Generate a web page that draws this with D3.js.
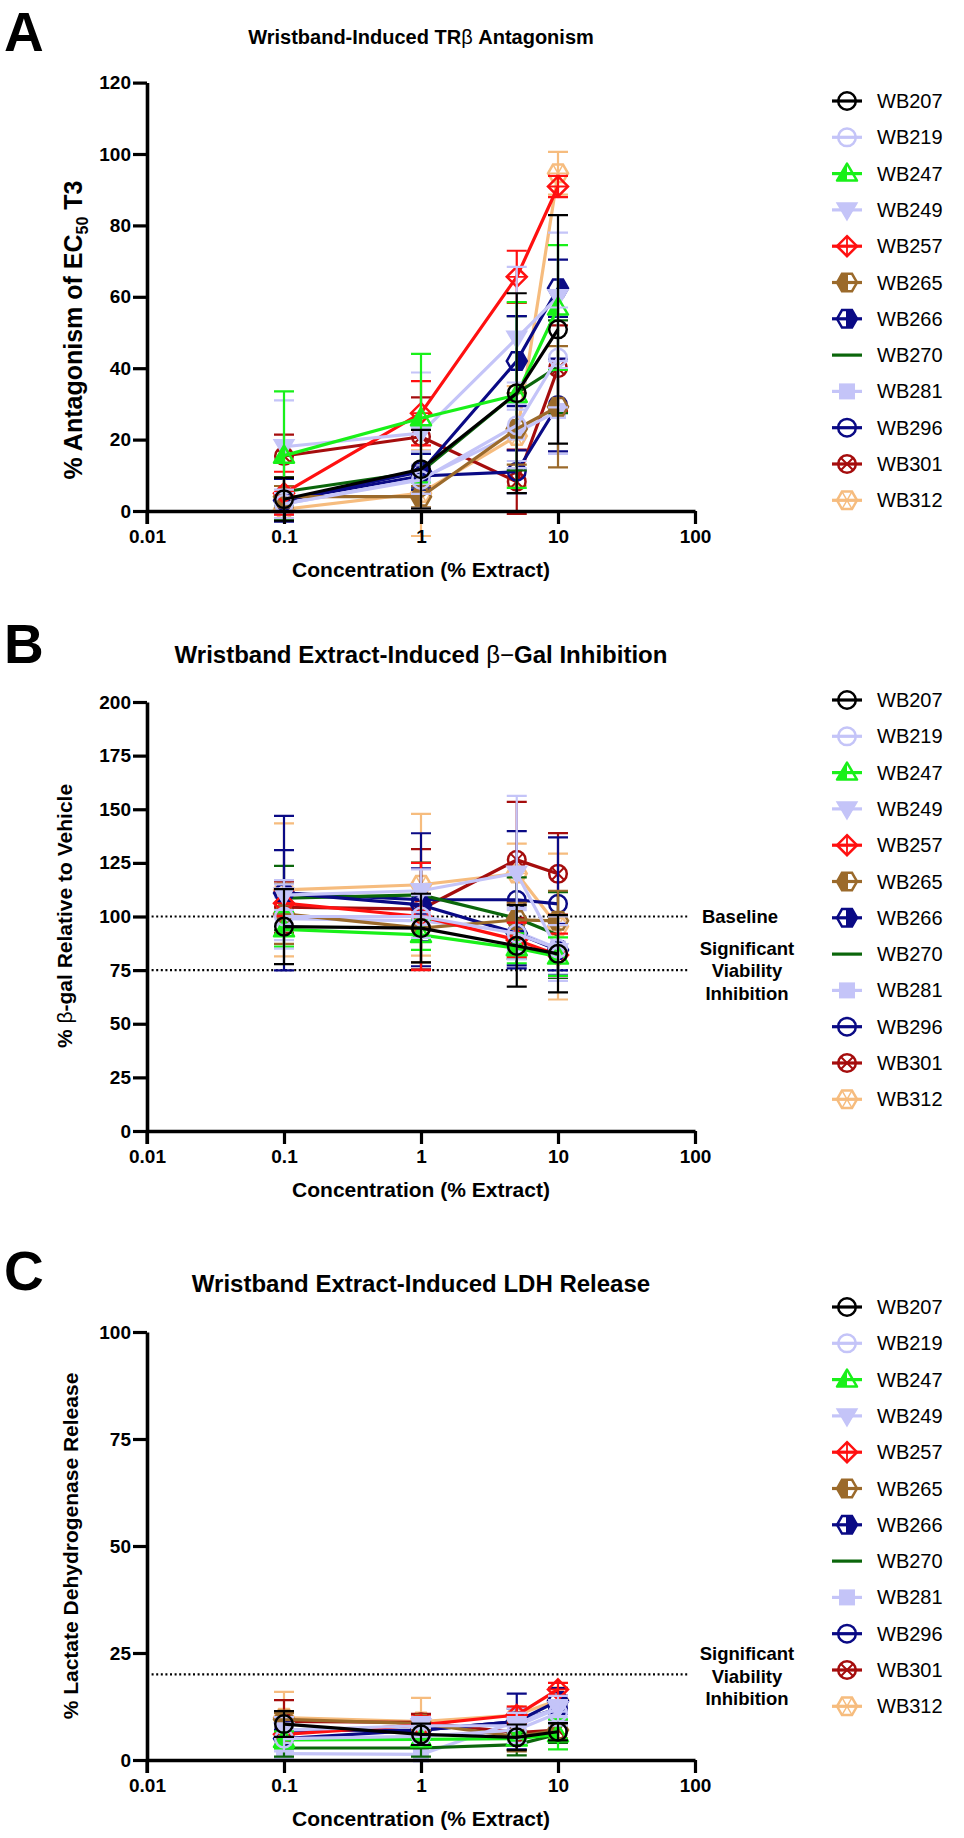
<!DOCTYPE html>
<html><head><meta charset="utf-8">
<script src="https://cdn.jsdelivr.net/npm/d3@7"></script>
<style>
body{margin:0;background:#fff}
svg{display:block}
text{font-family:"Liberation Sans",Arial,Helvetica,sans-serif;fill:#000}
</style>
</head><body>
<svg id="chart" width="964" height="1838"></svg>
<script>
// ---------------- DATA ----------------
const concentrations = [0.1, 1, 5, 10];
const seriesNames = ["WB207","WB219","WB247","WB249","WB257","WB265","WB266","WB270","WB281","WB296","WB301","WB312"];
const xTickValues = [0.01, 0.1, 1, 10, 100];
const xTickLabels = ["0.01", "0.1", "1", "10", "100"];

// Panel A: % antagonism of EC50 T3
const trbYTicks = [0, 20, 40, 60, 80, 100, 120];
const trbMeans = [
  [3.3, 11.7, 33, 50.9],
  [2, 8.7, 24, 43],
  [15.5, 26, 32.5, 57],
  [18, 21.8, 48.4, 60],
  [5, 27.4, 65.6, 90.9],
  [4, 4, 23, 29.2],
  [3, 11, 42, 62.4],
  [5.4, 11, 33, 40.4],
  [2, 9, 22, 28],
  [3, 9.8, 11, 29.7],
  [15.4, 20.8, 8.2, 40],
  [0.5, 5, 21, 94.6]
];
const trbErrors = [
  [6, 11, 28, 32],
  [4, 8, 12, 14],
  [18, 18, 26, 17.5],
  [13, 17, 20, 18],
  [6, 9, 7.3, 3],
  [3, 3, 10, 17],
  [6, 5, 12.6, 8],
  [4, 5, 21.6, 13],
  [3, 4, 8, 12],
  [4, 3, 6, 13],
  [6, 11, 9, 12],
  [3, 12, 14, 6]
];

// Panel B: % beta-gal relative to vehicle
const galYTicks = [0, 25, 50, 75, 100, 125, 150, 175, 200];
const galMeans = [
  [95.3, 94.6, 86.3, 82.6],
  [100, 100, 92, 85],
  [94, 91.4, 85.2, 81.3],
  [110, 112, 120.2, 84],
  [106.2, 100, 89.1, 82],
  [101.2, 94.6, 98.4, 98],
  [110.9, 105.4, 92.2, 84.4],
  [108.6, 110.1, 99.2, 91.4],
  [99, 98, 93, 85],
  [110.9, 107.8, 107.8, 105.9],
  [104.4, 103.4, 126.4, 119.9],
  [112.4, 114.8, 120, 95.3]
];
const galErrors = [
  [17.5, 16, 19, 18],
  [15, 10, 12, 15],
  [8, 7, 7, 9],
  [7, 10, 36, 12],
  [6, 25, 8, 10],
  [14, 16, 8, 14],
  [36, 17, 15, 12],
  [15, 15, 19, 20],
  [10, 8, 10, 12],
  [20, 31, 32, 31],
  [12, 28, 27, 19],
  [31, 33, 14, 34]
];

// Panel C: % LDH release
const ldhYTicks = [0, 25, 50, 75, 100];
const ldhMeans = [
  [8.4, 6.0, 5.3, 6.6],
  [5, 5.5, 7, 11],
  [4.7, 4.8, 5, 6],
  [7, 8, 8, 12],
  [6, 8.2, 10.5, 16.5],
  [9.5, 8.5, 5.5, 7],
  [5, 7, 9, 13.8],
  [2.8, 2.8, 3.6, 6],
  [1.5, 1.3, 9, 12],
  [6.9, 7, 9, 12],
  [9, 8.8, 6.4, 7],
  [9.9, 9, 10.5, 14]
];
const ldhErrors = [
  [3, 2.5, 3, 2],
  [3, 2, 3, 3],
  [2, 1, 1.5, 3.5],
  [3, 2, 3, 3],
  [2, 2, 2, 1.5],
  [1.5, 1.5, 3.5, 2],
  [2, 2, 6.5, 3],
  [2, 2, 2.5, 2],
  [1, 1.5, 3, 2],
  [2, 2, 3, 3],
  [5, 2, 4, 2],
  [6, 5.5, 2, 3]
];

// ---------------- STYLES ----------------
const seriesColors = ["#000000","#c4c4f8","#19f019","#c4c4f8","#ff1010","#9b6a2b","#0a0a85","#0b660b","#c4c4f8","#0a0a85","#a50d0d","#f6bc7e"];
const seriesMarkers = ["circle","circle","triUpHalf","triDown","diamondPlus","hexLeft","hexRight","none","square","circle","circleX","hexStar"];

const svg = d3.select("#chart");
const X0 = 147, X1 = 695;

function drawMarker(g, type, color, cx, cy) {
  const m = g.append("g").attr("transform", `translate(${cx},${cy})`);
  const sw = 2.5;
  if (type === "circle") {
    m.append("circle").attr("r", 8.8).attr("fill", "none").attr("stroke", color).attr("stroke-width", sw);
  } else if (type === "circleX") {
    m.append("circle").attr("r", 8.8).attr("fill", "none").attr("stroke", color).attr("stroke-width", sw);
    m.append("path").attr("d", "M-6,-6L6,6M-6,6L6,-6").attr("stroke", color).attr("stroke-width", 2);
  } else if (type === "diamondPlus") {
    m.append("path").attr("d", "M0,-10L10,0L0,10L-10,0Z").attr("fill", "none").attr("stroke", color).attr("stroke-width", sw);
    m.append("path").attr("d", "M0,-10V10M-10,0H10").attr("stroke", color).attr("stroke-width", 1.8);
  } else if (type === "triUpHalf") {
    m.append("path").attr("d", "M0,-10L0,7L-10,7Z").attr("fill", color);
    m.append("path").attr("d", "M0,-10L10,7L-10,7Z").attr("fill", "none").attr("stroke", color).attr("stroke-width", sw).attr("stroke-linejoin", "round");
  } else if (type === "triDown") {
    m.append("path").attr("d", "M0,10L10,-7L-10,-7Z").attr("fill", color).attr("stroke", color).attr("stroke-width", 1.5);
  } else if (type === "hexLeft" || type === "hexRight") {
    const hex = "M-10,0L-5,-8.7L5,-8.7L10,0L5,8.7L-5,8.7Z";
    const half = type === "hexLeft" ? "M-10,0L-5,-8.7L1,-8.7L1,8.7L-5,8.7Z" : "M10,0L5,-8.7L-1,-8.7L-1,8.7L5,8.7Z";
    m.append("path").attr("d", half).attr("fill", color);
    m.append("path").attr("d", hex).attr("fill", "none").attr("stroke", color).attr("stroke-width", sw);
  } else if (type === "hexStar") {
    m.append("path").attr("d", "M-10,0L-5,-8.7L5,-8.7L10,0L5,8.7L-5,8.7Z").attr("fill", "none").attr("stroke", color).attr("stroke-width", sw);
    m.append("path").attr("d", "M-10,0L10,0M-5,-8.7L5,8.7M5,-8.7L-5,8.7").attr("stroke", color).attr("stroke-width", 1.5);
  } else if (type === "square") {
    m.append("rect").attr("x", -8).attr("y", -8).attr("width", 16).attr("height", 16).attr("fill", color);
  }
}

function drawPanel(p) {
  const g = svg.append("g");
  const x = d3.scaleLog().domain([0.01, 100]).range([X0, X1]);
  const y = d3.scaleLinear().domain(p.yDomain).range(p.yRange);

  // panel letter and title
  g.append("text").attr("x", 4).attr("y", p.letterY).attr("font-size", 55).attr("font-weight", "bold").text(p.letter);
  const t = g.append("text").attr("x", (X0 + X1) / 2).attr("y", p.titleY).attr("text-anchor", "middle")
    .attr("font-size", p.titleSize).attr("font-weight", "bold");
  p.title(t);

  // reference lines
  (p.refLines || []).forEach(r => {
    g.append("line").attr("x1", X0).attr("x2", 688).attr("y1", y(r)).attr("y2", y(r))
      .attr("stroke", "#000").attr("stroke-width", 2.2).attr("stroke-dasharray", "2,2.6");
  });
  (p.notes || []).forEach(n => {
    g.append("text").attr("x", n.x).attr("y", y(n.v) + n.dy).attr("text-anchor", "middle")
      .attr("dominant-baseline", "central").attr("font-size", 18.5).attr("font-weight", "bold").text(n.text);
  });

  // series (first series drawn on top)
  for (let i = seriesNames.length - 1; i >= 0; i--) {
    const col = seriesColors[i];
    const sg = g.append("g");
    const pts = concentrations.map((c, j) => ({ c, v: p.means[i][j], e: p.errors[i][j] }));
    pts.forEach(d => {
      const cx = x(d.c), yt = y(d.v + d.e), yb = y(d.v - d.e);
      sg.append("path").attr("d", `M${cx},${yt}V${yb}M${cx - 10},${yt}H${cx + 10}M${cx - 10},${yb}H${cx + 10}`)
        .attr("stroke", col).attr("stroke-width", 2.2).attr("fill", "none");
    });
    sg.append("path").datum(pts)
      .attr("d", d3.line().x(d => x(d.c)).y(d => y(d.v)))
      .attr("fill", "none").attr("stroke", col).attr("stroke-width", 3.2).attr("stroke-linejoin", "round");
    pts.forEach(d => drawMarker(sg, seriesMarkers[i], col, x(d.c), y(d.v)));
  }

  // axes
  const yAxis = d3.axisLeft(y).tickValues(p.yTicks).tickFormat(d3.format("d")).tickSize(14).tickSizeOuter(0).tickPadding(2);
  const ya = g.append("g").attr("transform", `translate(${X0},0)`).call(yAxis);
  const xAxis = d3.axisBottom(x).tickValues(xTickValues).tickFormat((d, i) => xTickLabels[i]).tickSize(13).tickSizeOuter(0).tickPadding(6);
  const xa = g.append("g").attr("transform", `translate(0,${y(0)})`).call(xAxis);
  [ya, xa].forEach(a => {
    a.select(".domain").attr("stroke", "#000").attr("stroke-width", 3.6);
    a.selectAll(".tick line").attr("stroke", "#000").attr("stroke-width", 3.2);
    a.selectAll(".tick text").attr("font-size", 19).attr("font-weight", "bold").attr("fill", "#000")
      .style("font-family", '"Liberation Sans",Arial,sans-serif');
  });
  g.append("line").attr("x1", X0).attr("x2", X0).attr("y1", y(0)).attr("y2", y(0) + 13).attr("stroke", "#000").attr("stroke-width", 3.2);

  // axis titles
  g.append("text").attr("x", (X0 + X1) / 2).attr("y", y(0) + 66).attr("text-anchor", "middle")
    .attr("font-size", 21).attr("font-weight", "bold").text("Concentration (% Extract)");
  const yt = g.append("text").attr("transform", `translate(${p.yTitleX},${p.yTitleY}) rotate(-90)`)
    .attr("text-anchor", "middle").attr("font-size", p.yTitleSize).attr("font-weight", "bold");
  p.yTitle(yt);

  // legend
  seriesNames.forEach((name, i) => {
    const ly = p.legendY + i * 36.3;
    const col = seriesColors[i];
    g.append("line").attr("x1", 832).attr("x2", 862).attr("y1", ly).attr("y2", ly).attr("stroke", col).attr("stroke-width", 3.2);
    drawMarker(g, seriesMarkers[i], col, 847, ly);
    g.append("text").attr("x", 877).attr("y", ly).attr("dominant-baseline", "central").attr("font-size", 20).text(name);
  });
}

drawPanel({
  letter: "A", letterY: 51, titleY: 44, titleSize: 20,
  title: t => { t.text("Wristband-Induced TR"); t.append("tspan").attr("font-weight", "normal").text("β"); t.append("tspan").text(" Antagonism"); },
  yDomain: [0, 120], yRange: [511, 82.6], yTicks: trbYTicks,
  means: trbMeans, errors: trbErrors,
  yTitleX: 82, yTitleY: 330, yTitleSize: 25,
  yTitle: t => { t.text("% Antagonism of EC"); t.append("tspan").attr("font-size", 16).attr("dy", 6).text("50"); t.append("tspan").attr("dy", -6).text(" T3"); },
  legendY: 101
});

drawPanel({
  letter: "B", letterY: 663, titleY: 663, titleSize: 24,
  title: t => { t.text("Wristband Extract-Induced "); t.append("tspan").attr("font-weight", "normal").text("β−"); t.append("tspan").text("Gal Inhibition"); },
  yDomain: [0, 200], yRange: [1131, 702], yTicks: galYTicks,
  means: galMeans, errors: galErrors,
  yTitleX: 72, yTitleY: 916, yTitleSize: 21,
  yTitle: t => { t.text("% "); t.append("tspan").attr("font-weight", "normal").text("β"); t.append("tspan").text("-gal Relative to Vehicle"); },
  refLines: [100, 75],
  notes: [
    { text: "Baseline", x: 740, v: 100, dy: 0 },
    { text: "Significant", x: 747, v: 75, dy: -22 },
    { text: "Viability", x: 747, v: 75, dy: 0.5 },
    { text: "Inhibition", x: 747, v: 75, dy: 23 }
  ],
  legendY: 700
});

drawPanel({
  letter: "C", letterY: 1290, titleY: 1292, titleSize: 24,
  title: t => t.text("Wristband Extract-Induced LDH Release"),
  yDomain: [0, 100], yRange: [1760, 1332], yTicks: ldhYTicks,
  means: ldhMeans, errors: ldhErrors,
  yTitleX: 78, yTitleY: 1546, yTitleSize: 21,
  yTitle: t => t.text("% Lactate Dehydrogenase Release"),
  refLines: [20],
  notes: [
    { text: "Significant", x: 747, v: 20, dy: -20.5 },
    { text: "Viability", x: 747, v: 20, dy: 2 },
    { text: "Inhibition", x: 747, v: 20, dy: 24 }
  ],
  legendY: 1307
});
</script>
</body></html>
